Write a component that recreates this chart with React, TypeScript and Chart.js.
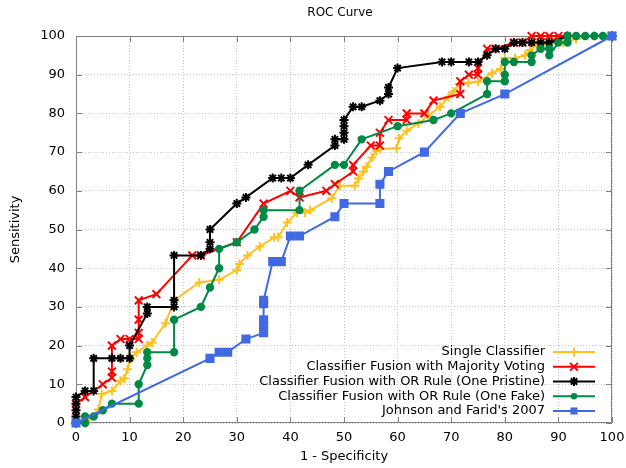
import React, { useEffect, useRef } from 'react';
import { Chart, registerables } from 'chart.js';

Chart.register(...registerables);

const chartTitle = 'ROC Curve';
const xAxisTitle = '1 - Specificity';
const yAxisTitle = 'Sensitivity';
const tickValues = [0, 10, 20, 30, 40, 50, 60, 70, 80, 90, 100];

const seriesLabels = [
  'Single Classifier',
  'Classifier Fusion with Majority Voting',
  'Classifier Fusion with OR Rule (One Pristine)',
  'Classifier Fusion with OR Rule (One Fake)',
  "Johnson and Farid's 2007",
];

const singleX = [0, 1.7, 2.5, 4.2, 4.8, 6.7, 8.3, 9.0, 9.6, 10.2, 11.3, 13.3, 14.2, 16.7, 18.3, 23.0, 26.7, 30.0, 30.5, 32.0, 34.3, 37.0, 37.7, 39.4, 41.2, 42.7, 43.7, 47.7, 49.2, 52.0, 52.7, 53.6, 54.2, 55.2, 56.1, 56.7, 59.8, 60.3, 61.7, 63.9, 65.7, 67.9, 69.5, 70.4, 71.5, 73.2, 75.0, 77.6, 79.2, 80.0, 81.9, 83.8, 84.7, 85.9, 87.8, 89.4, 90.9, 93.3, 96.7, 100];
const singleY = [0, 0, 1.0, 3.5, 7.5, 8.3, 10.9, 11.5, 13.9, 16.5, 18.3, 20.0, 20.8, 25.8, 31.7, 36.3, 37.0, 39.5, 41.1, 43.3, 45.6, 48.0, 48.0, 51.8, 54.3, 54.4, 55.0, 58.1, 61.3, 61.3, 63.2, 64.9, 66.2, 68.6, 70.3, 70.8, 71.0, 73.6, 75.5, 77.4, 79.4, 81.7, 84.3, 85.6, 87.6, 87.9, 88.2, 90.4, 91.5, 94.3, 94.3, 95.0, 96.4, 97.7, 97.9, 98.9, 98.3, 99.2, 100, 100];

const majorityX = [0, 0, 1.7, 5.0, 6.7, 6.7, 6.7, 8.3, 10.0, 11.7, 11.7, 11.7, 11.7, 15.0, 21.7, 23.3, 30.0, 35.0, 40.0, 41.7, 46.7, 48.3, 51.7, 51.7, 55.0, 56.7, 56.7, 58.3, 61.7, 61.7, 65.0, 66.7, 71.7, 71.7, 73.3, 75.0, 75.0, 76.7, 78.3, 81.7, 83.3, 85.0, 86.7, 88.3, 90.0, 100];
const majorityY = [3.3, 5.0, 6.7, 10.0, 11.7, 13.3, 20.0, 21.7, 21.7, 21.7, 23.3, 26.7, 31.7, 33.3, 43.3, 43.3, 46.7, 56.7, 60.0, 58.3, 60.0, 61.7, 65.0, 66.7, 71.7, 71.7, 75.0, 78.3, 78.3, 80.0, 80.0, 83.3, 85.0, 88.3, 90.0, 90.0, 91.7, 96.7, 96.7, 98.3, 98.3, 100, 100, 100, 100, 100];

const pristineX = [0, 0, 0, 0, 0, 1.7, 3.3, 3.3, 6.7, 8.3, 10.0, 10.0, 13.3, 13.3, 18.3, 18.3, 18.3, 23.3, 25.0, 25.0, 25.0, 30.0, 31.7, 36.7, 38.3, 40.0, 43.3, 48.3, 48.3, 50.0, 50.0, 50.0, 50.0, 51.7, 53.3, 56.7, 58.3, 58.3, 60.0, 68.3, 70.0, 73.3, 75.0, 76.7, 78.3, 80.0, 81.7, 83.3, 85.0, 86.7, 88.3, 91.7, 100];
const pristineY = [0, 1.7, 3.3, 5.0, 6.7, 8.3, 8.3, 16.7, 16.7, 16.7, 16.7, 20.0, 28.3, 30.0, 30.0, 31.7, 43.3, 43.3, 45.0, 46.7, 50.0, 56.7, 58.3, 63.3, 63.3, 63.3, 66.7, 71.7, 73.3, 73.3, 75.0, 76.7, 78.3, 81.7, 81.7, 83.3, 85.0, 86.7, 91.7, 93.3, 93.3, 93.3, 93.3, 95.0, 96.7, 96.7, 98.3, 98.3, 98.3, 98.3, 98.3, 100, 100];

const fakeX = [0, 1.7, 1.7, 3.3, 5.0, 6.7, 11.7, 11.7, 13.3, 13.3, 13.3, 18.3, 18.3, 23.3, 25.0, 26.7, 26.7, 30.0, 33.3, 35.0, 35.0, 41.7, 41.7, 48.3, 50.0, 53.3, 60.0, 66.7, 70.0, 76.7, 76.7, 80.0, 80.0, 80.0, 81.7, 85.0, 85.0, 86.7, 88.3, 88.3, 90.0, 91.7, 91.7, 93.3, 95.0, 96.7, 98.3, 100];
const fakeY = [0, 0, 1.7, 1.7, 3.3, 5.0, 5.0, 10.0, 15.0, 16.7, 18.3, 18.3, 26.7, 30.0, 35.0, 40.0, 45.0, 46.7, 50.0, 53.3, 55.0, 55.0, 60.0, 66.7, 66.7, 73.3, 76.7, 78.3, 80.0, 85.0, 88.3, 88.3, 90.0, 93.3, 93.3, 93.3, 95.0, 96.7, 96.7, 95.0, 98.3, 98.3, 100, 100, 100, 100, 100, 100];

const johnsonX = [0, 25.0, 26.7, 28.3, 31.7, 35.0, 35.0, 35.0, 35.0, 35.0, 36.7, 38.3, 40.0, 41.7, 48.3, 50.0, 56.7, 56.7, 58.3, 65.0, 71.7, 80.0, 100];
const johnsonY = [0, 16.7, 18.3, 18.3, 21.7, 23.3, 25.0, 26.7, 30.8, 31.7, 41.7, 41.7, 48.3, 48.3, 53.3, 56.7, 56.7, 61.7, 65.0, 70.0, 80.0, 85.0, 100];

const seriesColors = ['#ffc020', '#ff0000', '#000000', '#008a45', '#4169e1'];
const seriesPointStyles = ['cross', 'crossRot', 'star', 'circle', 'rect'];
const seriesPointRadius = [4.5, 5.5, 4.5, 3.2, 5];
const seriesX = [singleX, majorityX, pristineX, fakeX, johnsonX];
const seriesY = [singleY, majorityY, pristineY, fakeY, johnsonY];

const FONT = '"DejaVu Sans", sans-serif';
const FRAME = '#808080';

function drawMarker(ctx: CanvasRenderingContext2D, style: string, x: number, y: number, r: number, color: string) {
  ctx.save();
  ctx.strokeStyle = color;
  ctx.fillStyle = color;
  ctx.lineWidth = 2;
  ctx.beginPath();
  if (style === 'cross' || style === 'star') {
    ctx.moveTo(x - r, y); ctx.lineTo(x + r, y);
    ctx.moveTo(x, y - r); ctx.lineTo(x, y + r);
  }
  if (style === 'crossRot' || style === 'star') {
    const d = r * Math.SQRT1_2;
    ctx.moveTo(x - d, y - d); ctx.lineTo(x + d, y + d);
    ctx.moveTo(x - d, y + d); ctx.lineTo(x + d, y - d);
  }
  ctx.stroke();
  if (style === 'circle') {
    ctx.beginPath();
    ctx.arc(x, y, r, 0, Math.PI * 2);
    ctx.fill();
  }
  if (style === 'rect') {
    const s = r * Math.SQRT1_2;
    ctx.fillRect(x - s, y - s, 2 * s, 2 * s);
  }
  ctx.restore();
}

const framePlugin = {
  id: 'framePlugin',
  beforeDatasetsDraw(chart: any) {
    const { ctx, chartArea: a, scales } = chart;
    ctx.save();
    ctx.strokeStyle = FRAME;
    ctx.lineWidth = 1;
    ctx.beginPath();
    ctx.rect(a.left + 0.5, a.top + 0.5, a.right - a.left - 1, a.bottom - a.top - 1);
    ctx.stroke();
    const tl = 6;
    ctx.beginPath();
    tickValues.forEach((v) => {
      const px = Math.round(scales.x.getPixelForValue(v)) + 0.5;
      ctx.moveTo(px, a.bottom); ctx.lineTo(px, a.bottom - tl);
      ctx.moveTo(px, a.top); ctx.lineTo(px, a.top + tl);
      const py = Math.round(scales.y.getPixelForValue(v)) + 0.5;
      ctx.moveTo(a.left, py); ctx.lineTo(a.left + tl, py);
      ctx.moveTo(a.right, py); ctx.lineTo(a.right - tl, py);
    });
    ctx.stroke();
    ctx.restore();
  },
  afterDraw(chart: any) {
    const { ctx, chartArea: a } = chart;
    ctx.save();
    ctx.fillStyle = '#000';
    ctx.font = `12px ${FONT}`;
    ctx.textAlign = 'center';
    ctx.textBaseline = 'middle';
    ctx.fillText(chartTitle, (a.left + a.right) / 2 - 4, 13);
    ctx.font = `13px ${FONT}`;
    chart.data.datasets.forEach((ds: any, i: number) => {
      const y = 352 + i * 14.75;
      ctx.textAlign = 'right';
      ctx.fillStyle = '#000';
      ctx.fillText(ds.label, 545, y);
      ctx.strokeStyle = ds.borderColor;
      ctx.lineWidth = 2;
      ctx.beginPath();
      ctx.moveTo(553, y);
      ctx.lineTo(595, y);
      ctx.stroke();
      drawMarker(ctx, ds.pointStyle, 574, y, ds.pointRadius, ds.borderColor);
    });
    ctx.restore();
  },
};

export default function App() {
  const canvasRef = useRef<HTMLCanvasElement | null>(null);

  useEffect(() => {
    document.body.style.margin = '0';
    const canvas = canvasRef.current;
    if (!canvas) return;
    const orders = [5, 4, 3, 2, 1];
    const datasets = seriesLabels.map((label, i) => ({
      label,
      data: seriesX[i].map((x, k) => ({ x, y: seriesY[i][k] })),
      showLine: true,
      borderColor: seriesColors[i],
      backgroundColor: seriesColors[i],
      borderWidth: 2,
      pointStyle: seriesPointStyles[i],
      pointRadius: seriesPointRadius[i],
      pointBorderWidth: 2,
      pointBackgroundColor: seriesColors[i],
      pointBorderColor: seriesColors[i],
      order: orders[i],
      clip: false as any,
    }));
    const chart = new Chart(canvas, {
      type: 'scatter',
      data: { datasets },
      plugins: [framePlugin],
      options: {
        animation: false,
        responsive: false,
        devicePixelRatio: 1,
        layout: { padding: { top: 36, right: 14, left: 0, bottom: 0 } },
        plugins: {
          legend: { display: false },
          tooltip: { enabled: false },
          title: { display: false },
        },
        scales: {
          x: {
            type: 'linear',
            min: 0,
            max: 100,
            afterFit: (s: any) => { s.height = 45; s.paddingLeft = 0; s.paddingRight = 0; },
            afterBuildTicks: (s: any) => { s.ticks = tickValues.map((v) => ({ value: v })); },
            ticks: { padding: 7, color: '#000', font: { family: FONT, size: 13 } },
            grid: { color: '#c4c4c4', lineWidth: 1, drawTicks: false },
            border: { display: false, dash: [1, 2] },
            title: { display: true, text: xAxisTitle, color: '#000', font: { family: FONT, size: 13 }, padding: { top: 0, bottom: 4 } },
          },
          y: {
            type: 'linear',
            min: 0,
            max: 100,
            afterFit: (s: any) => { s.width = 76; s.paddingTop = 0; s.paddingBottom = 0; },
            afterBuildTicks: (s: any) => { s.ticks = tickValues.map((v) => ({ value: v })); },
            ticks: { padding: 11, color: '#000', font: { family: FONT, size: 13 } },
            grid: { color: '#c4c4c4', lineWidth: 1, drawTicks: false },
            border: { display: false, dash: [1, 2] },
            title: { display: true, text: yAxisTitle, color: '#000', font: { family: FONT, size: 13 }, padding: { top: 8, bottom: 0 } },
          },
        },
      },
    });
    return () => chart.destroy();
  }, []);

  return <canvas ref={canvasRef} width={626} height={468} style={{ display: 'block' }} />;
}
